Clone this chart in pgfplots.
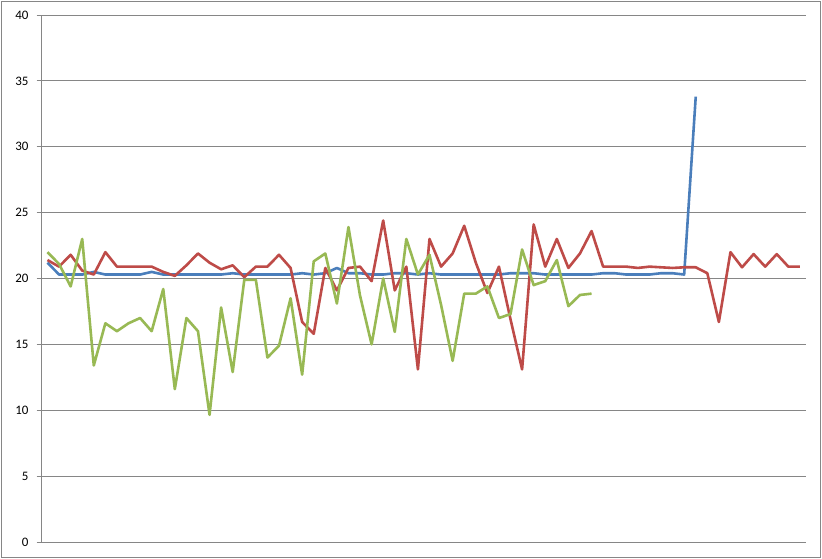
\documentclass[border=0pt]{standalone}
\usepackage{fontspec}
\setmainfont{Carlito}
\usepackage{pgfplots}
\pgfplotsset{compat=1.18}
\definecolor{xlblue}{HTML}{4A7EBB}
\definecolor{xlred}{HTML}{BE4B48}
\definecolor{xlgreen}{HTML}{98B954}
\definecolor{xlgrid}{HTML}{868686}
\begin{document}
\begin{tikzpicture}
\path[fill=white] (0,0) rectangle (822bp,559bp);
\path[draw=xlgrid, line width=0.8bp] (1.5bp,1.5bp) rectangle (820.5bp,557.5bp);
\begin{axis}[
  at={(41.7bp,17bp)}, anchor=south west,
  scale only axis, width=764bp, height=527bp,
  xmin=-0.5, xmax=65.5, ymin=0, ymax=40,
  axis x line=bottom, axis y line=left,
  axis line style={xlgrid, line width=0.8bp, -},
  xtick=\empty,
  ytick={0,5,...,40},
  ymajorgrids, grid style={xlgrid, line width=0.8bp},
  tick align=outside, major tick length=5bp,
  tick style={xlgrid, line width=0.8bp},
  /pgf/number format/assume math mode=true,
  yticklabel style={font=\fontsize{13}{15}\selectfont, inner sep=0pt, xshift=-8bp},
  every axis plot/.append style={line width=2.6bp, line join=round, no marks},
  clip=false,
]
% blue series
\addplot[xlblue] coordinates {
(0,21.2) (1,20.3) (2,20.3) (3,20.3) (4,20.5) (5,20.3) (6,20.3) (7,20.3) (8,20.3) (9,20.5)
(10,20.3) (11,20.3) (12,20.3) (13,20.3) (14,20.3) (15,20.3) (16,20.4) (17,20.3) (18,20.3) (19,20.3)
(20,20.3) (21,20.3) (22,20.4) (23,20.3) (24,20.4) (25,20.8) (26,20.4) (27,20.4) (28,20.3) (29,20.3)
(30,20.4) (31,20.4) (32,20.3) (33,20.4) (34,20.3) (35,20.3) (36,20.3) (37,20.3) (38,20.3) (39,20.3)
(40,20.4) (41,20.4) (42,20.4) (43,20.3) (44,20.3) (45,20.3) (46,20.3) (47,20.3) (48,20.4) (49,20.4)
(50,20.3) (51,20.3) (52,20.3) (53,20.4) (54,20.4) (55,20.3) (56,33.8)
};
% red series
\addplot[xlred] coordinates {
(0,21.4) (1,20.9) (2,21.8) (3,20.6) (4,20.3) (5,22.0) (6,20.9) (7,20.9) (8,20.9) (9,20.9)
(10,20.5) (11,20.2) (12,21.0) (13,21.9) (14,21.2) (15,20.7) (16,21.0) (17,20.1) (18,20.9) (19,20.9)
(20,21.8) (21,20.8) (22,16.7) (23,15.8) (24,20.8) (25,19.1) (26,20.8) (27,20.9) (28,19.8) (29,24.4)
(30,19.1) (31,20.9) (32,13.1) (33,23.0) (34,20.9) (35,21.9) (36,24.0) (37,21.2) (38,18.9) (39,20.9)
(40,16.9) (41,13.1) (42,24.1) (43,20.9) (44,23.0) (45,20.8) (46,21.9) (47,23.6) (48,20.9) (49,20.9)
(50,20.9) (51,20.8) (52,20.9) (53,20.85) (54,20.8) (55,20.85) (56,20.85) (57,20.4) (58,16.7) (59,22.0)
(60,20.85) (61,21.85) (62,20.9) (63,21.85) (64,20.9) (65,20.9)
};
% green series
\addplot[xlgreen] coordinates {
(0,22.0) (1,21.1) (2,19.4) (3,23.0) (4,13.4) (5,16.6) (6,16.0) (7,16.6) (8,17.0) (9,16.0)
(10,19.2) (11,11.6) (12,17.0) (13,16.0) (14,9.65) (15,17.8) (16,12.9) (17,19.9) (18,19.9) (19,14.0)
(20,14.9) (21,18.5) (22,12.7) (23,21.3) (24,21.9) (25,18.1) (26,23.9) (27,18.7) (28,15.0) (29,20.0)
(30,15.95) (31,23.0) (32,20.3) (33,21.8) (34,18.0) (35,13.75) (36,18.85) (37,18.85) (38,19.4) (39,17.0)
(40,17.3) (41,22.2) (42,19.5) (43,19.8) (44,21.4) (45,17.9) (46,18.75) (47,18.85)
};
\end{axis}
\end{tikzpicture}
\end{document}
